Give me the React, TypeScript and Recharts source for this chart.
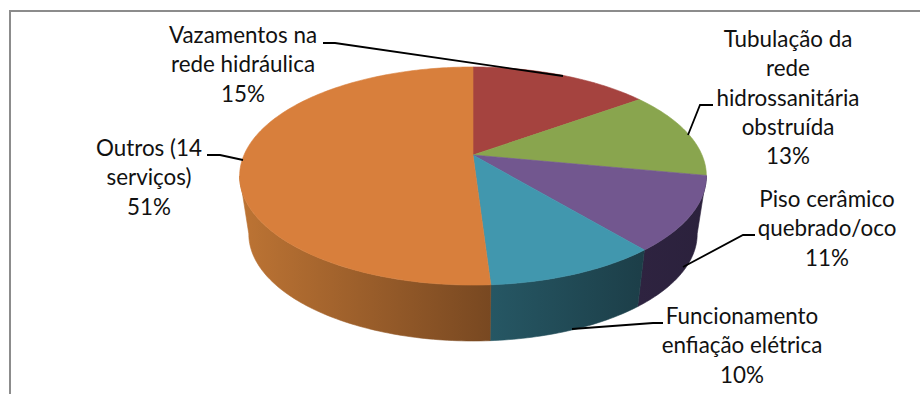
import React from "react";
import { PieChart, Pie } from "recharts";

// Share of maintenance requests per service type
const categories = [
  ["Vazamentos na", "rede hidráulica"],
  ["Tubulação da", "rede", "hidrossanitária", "obstruída"],
  ["Piso cerâmico", "quebrado/oco"],
  ["Funcionamento", "enfiação elétrica"],
  ["Outros (14", "serviços)"],
];
const shares = [15, 13, 11, 10, 51];

const topColors = ["#a5433f", "#89a54e", "#72578f", "#4197ae", "#d87f3c"];
const wallColors = [
  ["#6f2c2a", "#6f2c2a"],
  ["#5b6d33", "#5b6d33"],
  ["#2e2340", "#2b213c"],
  ["#265764", "#1c3e48"],
  ["#bd7434", "#784821"],
];

// Label placement: centre x, first baseline y, and leader polyline
const labelLayout = [
  { x: 243, y: 43, leader: "323,43 335,43 563,76" },
  { x: 788, y: 47, leader: "713,105 700,105 688,135" },
  { x: 827, y: 207, leader: "755,235 743,235 683,267" },
  { x: 742, y: 324, leader: "663,323 653,323 572,329" },
  { x: 149, y: 156, leader: "207,155 220,155 243,160" },
];
const LINE_HEIGHT = 29.3;

// Oblique view of the disc: far side foreshortened, near side enlarged
const PERSPECTIVE = 0.1927;
const TILT = 105 / 229;
const BOTTOM = { rx: 220, ry: 103, cy: 213.4 };
const VISIBLE_FROM = 101;
const VISIBLE_TO = 259;

const rad = (d: number) => (d * Math.PI) / 180;

function project(theta: number, cx: number, cy: number, rx: number, ry: number) {
  const u = Math.sin(rad(theta));
  const v = Math.cos(rad(theta));
  const d = 1 + PERSPECTIVE * v;
  return [cx + (rx * u) / d, cy - (ry * v) / d];
}

function arcPoints(from: number, to: number, cx: number, cy: number, rx: number, ry: number) {
  const steps = Math.max(2, Math.ceil(Math.abs(to - from)));
  const pts: number[][] = [];
  for (let i = 0; i <= steps; i++) {
    pts.push(project(from + ((to - from) * i) / steps, cx, cy, rx, ry));
  }
  return pts;
}

const toPath = (pts: number[][]) =>
  pts.map((p, i) => `${i ? "L" : "M"}${p[0].toFixed(2)},${p[1].toFixed(2)}`).join("") + "Z";

function DiscSlice(props: any) {
  const { cx, cy, outerRadius, startAngle, endAngle, index } = props;
  const from = 90 - startAngle;
  const to = 90 - endAngle;
  const rx = outerRadius;
  const ry = outerRadius * TILT;
  const top = toPath([[cx, cy], ...arcPoints(from, to, cx, cy, rx, ry)]);

  const wallFrom = Math.max(from, VISIBLE_FROM);
  const wallTo = Math.min(to, VISIBLE_TO);
  const hasWall = wallTo > wallFrom;
  const gradientId = `wall-${index}`;
  let wall = "";
  let x1 = 0;
  let x2 = 0;
  if (hasWall) {
    const upper = arcPoints(wallFrom, wallTo, cx, cy, rx, ry);
    const lower = arcPoints(wallTo, wallFrom, cx, BOTTOM.cy, BOTTOM.rx, BOTTOM.ry);
    wall = toPath([...upper, ...lower]);
    const xs = [...upper, ...lower].map((p) => p[0]);
    x1 = Math.min(...xs);
    x2 = Math.max(...xs);
  }
  const [leftColor, rightColor] = wallColors[index];
  return (
    <g>
      {hasWall && (
        <>
          <defs>
            <linearGradient id={gradientId} gradientUnits="userSpaceOnUse" x1={x1} x2={x2} y1={0} y2={0}>
              <stop offset="0" stopColor={leftColor} />
              <stop offset="1" stopColor={rightColor} />
            </linearGradient>
          </defs>
          <path d={wall} fill={`url(#${gradientId})`} stroke={`url(#${gradientId})`} strokeWidth={0.6} />
        </>
      )}
      <path d={top} fill={topColors[index]} stroke={topColors[index]} strokeWidth={0.6} />
    </g>
  );
}

function SliceLabel(props: any) {
  const { index } = props;
  const layout = labelLayout[index];
  const lines = [...categories[index], `${shares[index]}%`];
  return (
    <g>
      <polyline points={layout.leader} fill="none" stroke="#000" strokeWidth={1.8} />
      {lines.map((line, i) => (
        <text
          key={line}
          x={layout.x}
          y={layout.y + i * LINE_HEIGHT}
          textAnchor="middle"
          fontFamily="Lato, 'Open Sans', sans-serif"
          fontSize={22.4}
          fill="#111"
        >
          {line}
        </text>
      ))}
    </g>
  );
}

const chartData = shares.map((value, i) => ({ name: categories[i].join(" "), value }));

export default function App() {
  return (
    <div style={{ position: "absolute", left: 0, top: 0, width: 920, height: 394, background: "#fff", overflow: "hidden" }}>
      <div
        style={{
          position: "absolute",
          left: 9,
          top: 10,
          width: 911,
          height: 384,
          borderLeft: "2px solid #8c8c8c",
          borderTop: "2px solid #8c8c8c",
          boxSizing: "border-box",
        }}
      />
      <div style={{ position: "absolute", left: 0, top: 0 }}>
        <PieChart width={920} height={394} margin={{ top: 0, right: 0, bottom: 0, left: 0 }}>
          <Pie
            data={chartData}
            dataKey="value"
            cx={473}
            cy={155}
            innerRadius={0}
            outerRadius={229}
            startAngle={90}
            endAngle={-270}
            paddingAngle={0}
            stroke="none"
            isAnimationActive={false}
            shape={DiscSlice}
            label={SliceLabel}
            labelLine={false}
          />
        </PieChart>
      </div>
    </div>
  );
}
